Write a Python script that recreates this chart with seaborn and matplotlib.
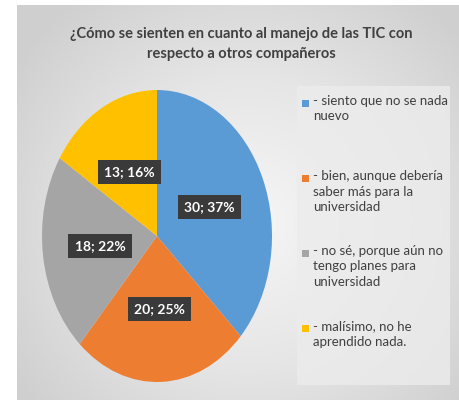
import numpy as np
import matplotlib.pyplot as plt
import seaborn as sns
from matplotlib.colors import LinearSegmentedColormap
from matplotlib.patches import Rectangle

# data
categories = ["- siento que no se nada\nnuevo",
              "- bien, aunque debería\nsaber más para la\nuniversidad",
              "- no sé, porque aún no\ntengo planes para\nuniversidad",
              "- malísimo, no he\naprendido nada."]
counts = [30, 20, 18, 13]
colors = ["#5B9BD5", "#ED7D31", "#A5A5A5", "#FFC000"]
title = "¿Cómo se sienten en cuanto al manejo de las TIC con\nrespecto a otros compañeros"

sns.set_theme(style="white")
plt.rcParams['font.family'] = ['Lato', 'DejaVu Sans']
pal = sns.color_palette(colors)

W, H = 459, 400
fig = plt.figure(figsize=(W / 100, H / 100), dpi=100)
fig.patch.set_facecolor("white")

# grey gradient background panel
bg = fig.add_axes([17 / W, 0, 1 - 17 / W, 395 / H], zorder=0)
yy, xx = np.mgrid[-1:1:300j, -1:1:300j]
dist = np.sqrt(((xx - 0.05) * 1.0) ** 2 + ((yy - 0.1) * 0.9) ** 2)
cmap = LinearSegmentedColormap.from_list("bg", ["#f6f6f6", "#e6e6e6", "#cfcfcf"])
bg.imshow(dist, cmap=cmap, extent=(0, 1, 0, 1), aspect="auto", vmin=0, vmax=1.3)
bg.set_axis_off()

# overlay in pixel units for title and legend
ov = fig.add_axes([0, 0, 1, 1], zorder=2)
ov.set_xlim(0, W)
ov.set_ylim(H, 0)
ov.set_axis_off()
ov.patch.set_alpha(0)

ov.text(241, 44, title, ha="center", va="center", fontsize=10.5, fontweight="bold",
        color="#404040", linespacing=1.6)

# legend panel
ov.add_patch(Rectangle((297, 86), 153, 299, facecolor="#ececec", edgecolor="none", alpha=0.8))
for i, (lab, c) in enumerate(zip(categories, pal)):
    y0 = 104 + 75 * i
    ov.add_patch(Rectangle((302, y0 - 4), 7, 7, facecolor=c, edgecolor="none"))
    ov.text(313, y0 - 9, lab, ha="left", va="top", fontsize=9.5, color="#404040",
            linespacing=1.35)

# pie (stretched vertically like the original)
ax = fig.add_axes([42 / W, 18 / H, 230 / W, 292 / H], zorder=1)
total = sum(counts)
wedges, texts, autotexts = ax.pie(
    counts, colors=pal, startangle=90, counterclock=False,
    autopct=lambda p: f"{int(round(p * total / 100))}; {p:.0f}%",
    pctdistance=0.5, wedgeprops=dict(linewidth=0),
    textprops=dict(color="white", fontsize=10, fontweight="bold"))
for t in autotexts:
    t.set_bbox(dict(boxstyle="square,pad=0.45", facecolor="#3a3a3a", edgecolor="none"))
ax.set_aspect("auto")
ax.set_xlim(-1, 1)
ax.set_ylim(-1, 1)
ax.set_axis_off()

fig.savefig("out.png", dpi=100)
